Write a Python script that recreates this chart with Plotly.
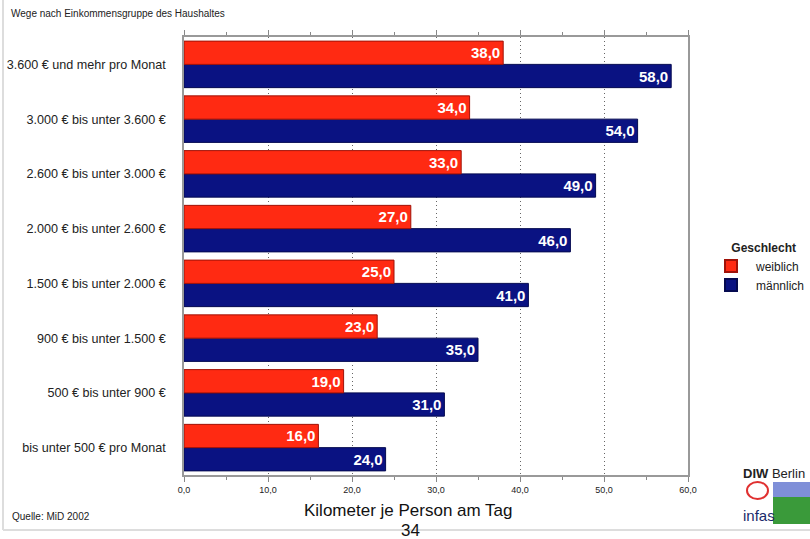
import plotly.graph_objects as go

categories = [
    "bis unter 500 € pro Monat",
    "500 € bis unter 900 €",
    "900 € bis unter 1.500 €",
    "1.500 € bis unter 2.000 €",
    "2.000 € bis unter 2.600 €",
    "2.600 € bis unter 3.000 €",
    "3.000 € bis unter 3.600 €",
    "3.600 € und mehr pro Monat",
]
weiblich = [16.0, 19.0, 23.0, 25.0, 27.0, 33.0, 34.0, 38.0]
maennlich = [24.0, 31.0, 35.0, 41.0, 46.0, 49.0, 54.0, 58.0]
tick_vals = [0, 10, 20, 30, 40, 50, 60]

W, H = 810, 539
L, R, T, B = 184, 122, 37, 64
pw, ph = W - L - R, H - T - B


def px(x):
    return (x - L) / pw


def py(y):
    return (H - B - y) / ph


FONT = "Liberation Sans, Arial, sans-serif"

fig = go.Figure()
fig.add_trace(go.Bar(
    y=categories, x=maennlich, orientation="h", name="männlich",
    marker=dict(color="#0A1282", line=dict(color="#050A50", width=1)),
    texttemplate="<b>%{x:.1f}</b>", textposition="inside", insidetextanchor="end",
    textfont=dict(color="white", size=15, family=FONT), cliponaxis=False,
))
fig.add_trace(go.Bar(
    y=categories, x=weiblich, orientation="h", name="weiblich",
    marker=dict(color="#FF2A12", line=dict(color="#A01208", width=1)),
    texttemplate="<b>%{x:.1f}</b>", textposition="inside", insidetextanchor="end",
    textfont=dict(color="white", size=15, family=FONT), cliponaxis=False,
))

fig.update_layout(
    width=W, height=H, margin=dict(l=L, r=R, t=T, b=B, autoexpand=False),
    paper_bgcolor="white", plot_bgcolor="white",
    separators=",.",
    barmode="group", bargap=0.15, bargroupgap=0,
    font=dict(family=FONT, size=11, color="#222"),
    showlegend=True,
    legend=dict(
        x=px(706), y=py(236), xanchor="left", yanchor="top",
        traceorder="reversed",
        title=dict(text="\u00a0\u00a0\u00a0\u00a0\u00a0\u00a0\u00a0<b>Geschlecht</b>",
                   font=dict(size=12, color="#222"), side="top"),
        font=dict(size=12, color="#222"),
        itemsizing="constant", itemwidth=40,
    ),
)
fig.update_xaxes(
    range=[0, 60], tickvals=tick_vals, tickformat=".1f",
    ticks="outside", ticklen=5, tickcolor="#888",
    minor=dict(dtick=5, ticks="outside", ticklen=3, tickcolor="#888", showgrid=False),
    showgrid=True, gridcolor="#666", griddash="1px,3px", gridwidth=1,
    showline=True, linecolor="#999", linewidth=1.5, mirror="allticks",
    tickfont=dict(size=9, color="#222"), zeroline=False,
)
fig.update_yaxes(
    showline=True, linecolor="#999", linewidth=1.5, mirror=True,
    ticks="", ticklabelstandoff=14, tickfont=dict(size=12.6, color="#222"),
    showgrid=False,
)

ann = [
    dict(text="Wege nach Einkommensgruppe des Haushaltes", x=px(9), y=py(13),
         xanchor="left", yanchor="middle", font=dict(size=10, color="#222")),
    dict(text="Quelle: MiD 2002", x=px(10), y=py(516), xanchor="left",
         yanchor="middle", font=dict(size=10, color="#222")),
    dict(text="Kilometer je Person am Tag", x=px(408), y=py(511), xanchor="center",
         yanchor="middle", font=dict(size=17, color="#111")),
    dict(text="34", x=px(410), y=py(530), xanchor="center", yanchor="middle",
         font=dict(size=17, color="#111")),
    dict(text="<b>DIW</b> Berlin", x=px(741), y=py(473), xanchor="left",
         yanchor="middle", font=dict(size=13, color="#222")),
    dict(text="infas", x=px(741), y=py(515), xanchor="left", yanchor="middle",
         font=dict(size=15, color="#1a2a6a")),
]
for a in ann:
    a.update(xref="paper", yref="paper", showarrow=False)
fig.update_layout(annotations=ann)

shapes = [
    # page frame
    dict(type="line", x0=px(3), x1=px(3), y0=py(0), y1=py(530), line=dict(color="#ddd", width=2)),
    dict(type="line", x0=px(3), x1=px(810), y0=py(530), y1=py(530), line=dict(color="#ddd", width=2)),
    # logo bits
    dict(type="circle", x0=px(747), x1=px(768), y0=py(499), y1=py(482),
         line=dict(color="#e03030", width=2)),
    dict(type="rect", x0=px(773), x1=px(812), y0=py(524), y1=py(482),
         fillcolor="#3a9a3a", line=dict(width=0)),
    dict(type="rect", x0=px(773), x1=px(812), y0=py(497), y1=py(482),
         fillcolor="#7f8fd8", line=dict(width=0)),
]
for s in shapes:
    s.update(xref="paper", yref="paper", layer="above")
fig.update_layout(shapes=shapes)

fig.write_html("out.html")
